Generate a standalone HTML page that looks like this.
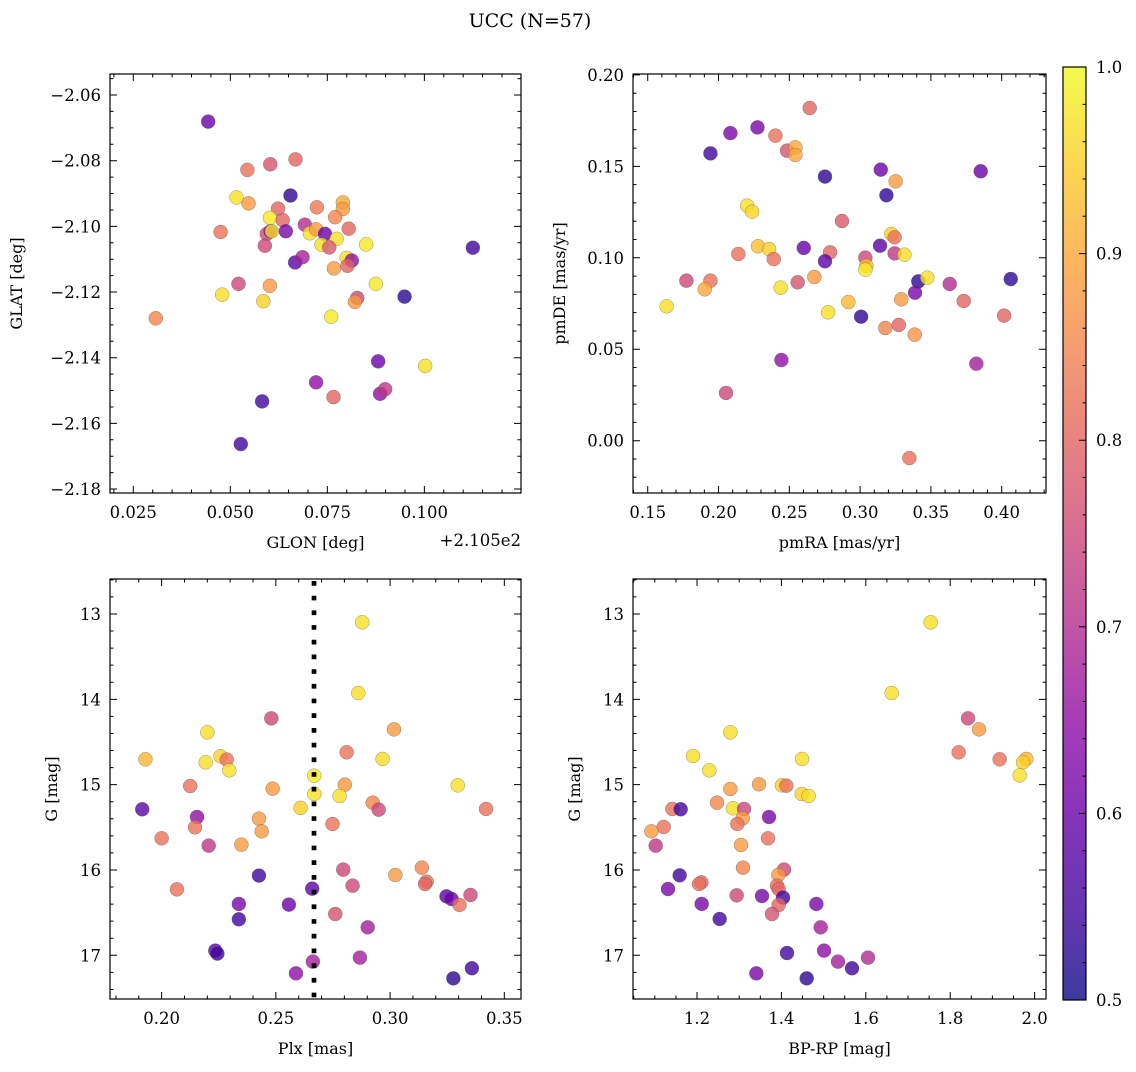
<!DOCTYPE html>
<html><head><meta charset="utf-8"><style>
html,body{margin:0;padding:0;background:#fff;}
svg text{font-family:"DejaVu Serif","Liberation Serif",serif;fill:#000;}
</style></head><body>
<svg id="chart" xmlns="http://www.w3.org/2000/svg" width="1136" height="1067" viewBox="0 0 1136 1067">
<rect width="1136" height="1067" fill="#fff"/>
<text x="530" y="27" font-size="19" text-anchor="middle">UCC (N=57)</text>
</svg>
<script>
// ---- Panel 1: GLON vs GLAT ----
const p1Glon=[0.0443,0.0544,0.0603,0.0668,0.0655,0.0516,0.0547,0.0623,0.0723,0.0790,0.0790,0.0602,0.0635,0.0770,0.0475,0.0805,0.0692,0.0594,0.0604,0.0607,0.0643,0.0589,0.0705,0.0721,0.0744,0.0774,0.0735,0.0755,0.0850,0.0667,0.0686,0.0800,0.0813,0.0802,0.0767,0.1125,0.0521,0.0479,0.0602,0.0585,0.0875,0.0949,0.0827,0.0821,0.0308,0.0760,0.0881,0.1002,0.0721,0.0766,0.0886,0.0899,0.0582,0.0527];
const p1Glat=[-2.0681,-2.0828,-2.0811,-2.0796,-2.0906,-2.0912,-2.0930,-2.0946,-2.0942,-2.0927,-2.0947,-2.0974,-2.0981,-2.0972,-2.1017,-2.1007,-2.0995,-2.1023,-2.1015,-2.1015,-2.1015,-2.1059,-2.1021,-2.1009,-2.1023,-2.1038,-2.1056,-2.1064,-2.1055,-2.1110,-2.1094,-2.1096,-2.1104,-2.1120,-2.1128,-2.1065,-2.1175,-2.1208,-2.1181,-2.1228,-2.1175,-2.1214,-2.1218,-2.1230,-2.1280,-2.1275,-2.1411,-2.1425,-2.1475,-2.1520,-2.1510,-2.1496,-2.1533,-2.1663];
const p1Prob=[.60,.82,.77,.80,.53,.97,.88,.80,.83,.90,.88,.98,.80,.85,.82,.80,.70,.75,.62,.97,.62,.75,.97,.88,.60,.97,.97,.78,.98,.58,.68,.97,.65,.80,.88,.55,.75,.97,.88,.95,.98,.53,.75,.88,.85,.98,.60,.97,.65,.80,.65,.72,.55,.55];
// ---- Panel 2: pmRA vs pmDE ----
const p2PmRA=[0.1634,0.1773,0.1943,0.1903,0.1943,0.2084,0.2275,0.2402,0.2484,0.2543,0.2543,0.2644,0.2202,0.2237,0.2140,0.2279,0.2357,0.2390,0.2439,0.2559,0.2444,0.2053,0.2602,0.2752,0.2788,0.2752,0.2677,0.2872,0.2774,0.2917,0.3007,0.3037,0.3044,0.3037,0.3146,0.3186,0.3251,0.3141,0.3221,0.3244,0.3244,0.3313,0.3291,0.3178,0.3273,0.3386,0.3411,0.3388,0.3475,0.3633,0.3732,0.4017,0.3821,0.3852,0.4064,0.3348];
const p2PmDE=[0.0735,0.0875,0.0875,0.0828,0.1571,0.1682,0.1713,0.1668,0.1586,0.1604,0.1562,0.1819,0.1285,0.1252,0.1021,0.1063,0.1048,0.0993,0.0837,0.0866,0.0441,0.0261,0.1054,0.1444,0.1030,0.0981,0.0895,0.1201,0.0702,0.0758,0.0678,0.1001,0.0957,0.0935,0.1482,0.1342,0.1418,0.1066,0.1130,0.1112,0.1024,0.1017,0.0773,0.0616,0.0633,0.0580,0.0871,0.0809,0.0891,0.0857,0.0764,0.0684,0.0421,0.1473,0.0884,-0.0095];
const p2Prob=[.97,.75,.82,.90,.55,.62,.62,.82,.77,.90,.90,.80,.97,.96,.82,.93,.95,.82,.97,.77,.65,.75,.60,.53,.80,.58,.88,.78,.97,.92,.53,.75,.92,.98,.60,.53,.88,.58,.95,.82,.72,.97,.88,.85,.80,.87,.53,.62,.97,.70,.80,.80,.68,.60,.53,.82];
// ---- Panel 3: Plx vs G ----
const p3Plx=[0.2878,0.2861,0.2480,0.2200,0.3017,0.1929,0.2193,0.2258,0.2285,0.2296,0.2810,0.2967,0.2125,0.2486,0.2668,0.2668,0.2802,0.2779,0.2608,0.3296,0.1915,0.2155,0.2146,0.2426,0.2438,0.2924,0.2950,0.2748,0.3420,0.2000,0.2206,0.2349,0.2067,0.2426,0.2795,0.2836,0.3023,0.3139,0.3160,0.3153,0.2659,0.3247,0.3269,0.3352,0.3304,0.2338,0.2557,0.2338,0.2760,0.2902,0.2235,0.2244,0.2662,0.2868,0.2588,0.3277,0.3358];
const p3G=[13.098,13.926,14.223,14.387,14.352,14.703,14.738,14.668,14.707,14.832,14.621,14.699,15.016,15.047,14.895,15.109,15.000,15.133,15.273,15.008,15.289,15.379,15.500,15.398,15.547,15.211,15.293,15.461,15.285,15.629,15.715,15.703,16.227,16.066,15.996,16.184,16.059,15.973,16.137,16.164,16.219,16.309,16.340,16.293,16.410,16.398,16.406,16.578,16.516,16.672,16.945,16.980,17.074,17.027,17.211,17.270,17.152];
const p3Prob=[.97,.97,.75,.97,.88,.92,.97,.95,.82,.97,.82,.97,.82,.88,.98,.97,.88,.97,.95,.97,.58,.65,.82,.88,.88,.85,.75,.82,.82,.82,.72,.88,.82,.55,.75,.75,.88,.85,.82,.80,.58,.58,.60,.75,.82,.62,.60,.55,.77,.68,.58,.55,.68,.68,.65,.53,.55];
const plxLine=0.2667;
// ---- Panel 4: BP-RP vs G ----
const p4BpRp=[1.7537,1.6613,1.8422,1.8683,1.8201,1.9172,1.9804,1.9725,1.9646,1.2790,1.1905,1.2292,1.4488,1.2790,1.3469,1.4014,1.4117,1.4480,1.4646,1.2474,1.2853,1.3114,1.1416,1.1613,1.1210,1.0918,1.3082,1.2956,1.3706,1.3682,1.1021,1.3043,1.3090,1.4062,1.3927,1.1589,1.2103,1.2047,1.3896,1.3935,1.1313,1.2940,1.3540,1.4038,1.3935,1.3777,1.2111,1.2537,1.4828,1.4931,1.5010,1.4133,1.5341,1.6052,1.5673,1.3406,1.4599];
const p4G=[13.098,13.926,14.223,14.352,14.621,14.703,14.699,14.738,14.891,14.387,14.664,14.832,14.699,15.051,14.996,15.008,15.012,15.109,15.133,15.211,15.277,15.285,15.285,15.289,15.496,15.547,15.395,15.461,15.379,15.629,15.715,15.707,15.973,15.996,16.059,16.063,16.145,16.164,16.184,16.223,16.223,16.297,16.305,16.324,16.410,16.516,16.398,16.574,16.398,16.672,16.945,16.973,17.074,17.027,17.152,17.211,17.270];
const p4Prob=[.97,.97,.75,.88,.82,.82,.92,.95,.97,.97,.97,.97,.97,.88,.88,.95,.82,.95,.97,.85,.97,.75,.82,.55,.82,.88,.88,.82,.62,.82,.72,.88,.85,.75,.88,.55,.80,.82,.82,.80,.62,.75,.62,.55,.80,.77,.62,.55,.62,.68,.65,.55,.68,.70,.55,.62,.53];
// ---- Colorbar ticks ----
const cbTicks=[0.5,0.6,0.7,0.8,0.9,1.0];

const NS="http://www.w3.org/2000/svg";
const svg=document.getElementById('chart');
const plasma=[[13,8,135],[65,4,157],[106,0,168],[143,13,164],[177,42,144],[204,71,120],[225,100,98],[242,132,75],[252,166,54],[252,206,37],[240,249,33]];
function cmap(v){let t=Math.max(0,Math.min(1,(v-0.5)/0.5))*10;let i=Math.min(9,Math.floor(t));let f=t-i;const a=plasma[i],b=plasma[i+1];
 return 'rgb('+[0,1,2].map(k=>Math.round(a[k]+(b[k]-a[k])*f)).join(',')+')';}
function mk(tag,attrs,parent){const e=document.createElementNS(NS,tag);for(const k in attrs)e.setAttribute(k,attrs[k]);(parent||svg).appendChild(e);return e;}
const TFS=16.5, AFS=16;
function panel(c){
 const g=mk('g',{});
 
 
 const sx=v=>c.L+(v-c.xL)/(c.xR-c.xL)*(c.R-c.L);
 const sy=v=>c.T+(v-c.yT)/(c.yB-c.yT)*(c.B-c.T);
 const pg=mk('g',{},g);
 
 
 for(let i=0;i<c.xs.length;i++){
  const p=mk('circle',{cx:sx(c.xs[i]),cy:sy(c.ys[i]),r:7,fill:cmap(c.cs[i]),'fill-opacity':0.8,stroke:'#555','stroke-opacity':0.6,'stroke-width':0.5},pg);
  
  
 }
 if(c.vline!==undefined){
  const l=mk('line',{x1:sx(c.vline),x2:sx(c.vline),y1:c.T+2,y2:c.B,stroke:'#000','stroke-width':4.7,'stroke-dasharray':'4.7 10'},g);
  
  
 }
 const fr=mk('rect',{x:c.L,y:c.T,width:c.R-c.L,height:c.B-c.T,fill:'none',stroke:'#000','stroke-width':1.2},g);
 
 
 let tk='';
 const lo=Math.min(c.xL,c.xR),hi=Math.max(c.xL,c.xR);
 for(let v=Math.ceil(lo/c.xMin-1e-6)*c.xMin;v<=hi+1e-9;v+=c.xMin){
  const maj=c.xMaj.some(m=>Math.abs(m-v)<c.xMin/10);const len=maj?7:3.5;const x=sx(v);
  tk+=`M${x},${c.B}v${-len}M${x},${c.T}v${len}`;}
 const ylo=Math.min(c.yT,c.yB),yhi=Math.max(c.yT,c.yB);
 for(let v=Math.ceil(ylo/c.yMin-1e-6)*c.yMin;v<=yhi+1e-9;v+=c.yMin){
  const maj=c.yMaj.some(m=>Math.abs(m-v)<c.yMin/10);const len=maj?7:3.5;const y=sy(v);
  tk+=`M${c.L},${y}h${len}M${c.R},${y}h${-len}`;}
 const tp=mk('path',{d:tk,stroke:'#000','stroke-width':1,fill:'none'},g);
 
 
 c.xMaj.forEach((v,i)=>{const t=mk('text',{x:sx(v),y:c.B+25,'font-size':TFS,'text-anchor':'middle'},g);t.textContent=c.xLab[i];
  
  });
 c.yMaj.forEach((v,i)=>{const t=mk('text',{x:c.L-9,y:sy(v)+6,'font-size':TFS,'text-anchor':'end'},g);t.textContent=c.yLab[i];
  
  });
 const xt=mk('text',{x:(c.L+c.R)/2,y:c.B+55,'font-size':AFS,'text-anchor':'middle'},g);xt.textContent=c.xTitle;
 
 
 const yt=mk('text',{x:0,y:0,'font-size':AFS,'text-anchor':'middle',transform:`translate(${c.yTx},${(c.T+c.B)/2}) rotate(-90)`},g);yt.textContent=c.yTitle;
 
 
}
const minus=s=>s.replace('-','\u2212');
panel({name:'glon-glat-panel',L:110,R:521,T:74,B:493,xL:0.0190,xR:0.1249,yT:-2.0536,yB:-2.1812,
 xMaj:[0.025,0.05,0.075,0.1],xLab:['0.025','0.050','0.075','0.100'],xMin:0.005,
 yMaj:[-2.06,-2.08,-2.10,-2.12,-2.14,-2.16,-2.18],yLab:['-2.06','-2.08','-2.10','-2.12','-2.14','-2.16','-2.18'].map(minus),yMin:0.005,
 xTitle:'GLON [deg]',yTitle:'GLAT [deg]',yTx:22,xs:p1Glon,ys:p1Glat,cs:p1Prob});
panel({name:'pm-panel',L:633,R:1046,T:74,B:493,xL:0.1396,xR:0.4313,yT:0.2005,yB:-0.0286,
 xMaj:[0.15,0.2,0.25,0.3,0.35,0.4],xLab:['0.15','0.20','0.25','0.30','0.35','0.40'],xMin:0.01,
 yMaj:[0,0.05,0.1,0.15,0.2],yLab:['0.00','0.05','0.10','0.15','0.20'],yMin:0.01,
 xTitle:'pmRA [mas/yr]',yTitle:'pmDE [mas/yr]',yTx:565,xs:p2PmRA,ys:p2PmDE,cs:p2Prob});
panel({name:'plx-g-panel',L:110,R:521,T:579,B:999,xL:0.1774,xR:0.3573,yT:12.590,yB:17.512,
 xMaj:[0.2,0.25,0.3,0.35],xLab:['0.20','0.25','0.30','0.35'],xMin:0.01,
 yMaj:[13,14,15,16,17],yLab:['13','14','15','16','17'],yMin:0.2,
 xTitle:'Plx [mas]',yTitle:'G [mag]',yTx:57,xs:p3Plx,ys:p3G,cs:p3Prob,vline:plxLine});
panel({name:'cmd-panel',L:633,R:1046,T:579,B:999,xL:1.0483,xR:2.027,yT:12.590,yB:17.512,
 xMaj:[1.2,1.4,1.6,1.8,2.0],xLab:['1.2','1.4','1.6','1.8','2.0'],xMin:0.05,
 yMaj:[13,14,15,16,17],yLab:['13','14','15','16','17'],yMin:0.2,
 xTitle:'BP-RP [mag]',yTitle:'G [mag]',yTx:580,xs:p4BpRp,ys:p4G,cs:p4Prob});
const off=mk('text',{x:521,y:546,'font-size':TFS,'text-anchor':'end'});off.textContent='+2.105e2';


const cb=mk('g',{});


const defs=mk('defs',{},cb);
const grad=mk('linearGradient',{id:'plg',x1:0,y1:1,x2:0,y2:0},defs);
for(let i=0;i<=20;i++){mk('stop',{offset:i/20,'stop-color':cmap(0.5+i/40)},grad);}
const cbT=67,cbB=1000,cbL=1063,cbR=1086;
mk('rect',{x:cbL,y:cbT,width:cbR-cbL,height:cbB-cbT,fill:'url(#plg)','fill-opacity':0.8},cb);
mk('rect',{x:cbL,y:cbT,width:cbR-cbL,height:cbB-cbT,fill:'none',stroke:'#000','stroke-width':1.2},cb);
const cy=v=>cbB-(v-0.5)/0.5*(cbB-cbT);
let cd='';
for(let v=0.5;v<=1.0001;v+=0.02){const maj=cbTicks.some(m=>Math.abs(m-v)<0.005);cd+=`M${cbR},${cy(v)}h${maj?-7:-3.5}`;}
mk('path',{d:cd,stroke:'#000','stroke-width':1},cb);
cbTicks.forEach(v=>{const t=mk('text',{x:cbR+10,y:cy(v)+6,'font-size':TFS},cb);t.textContent=v.toFixed(1);
 
 });
</script>
</body></html>
